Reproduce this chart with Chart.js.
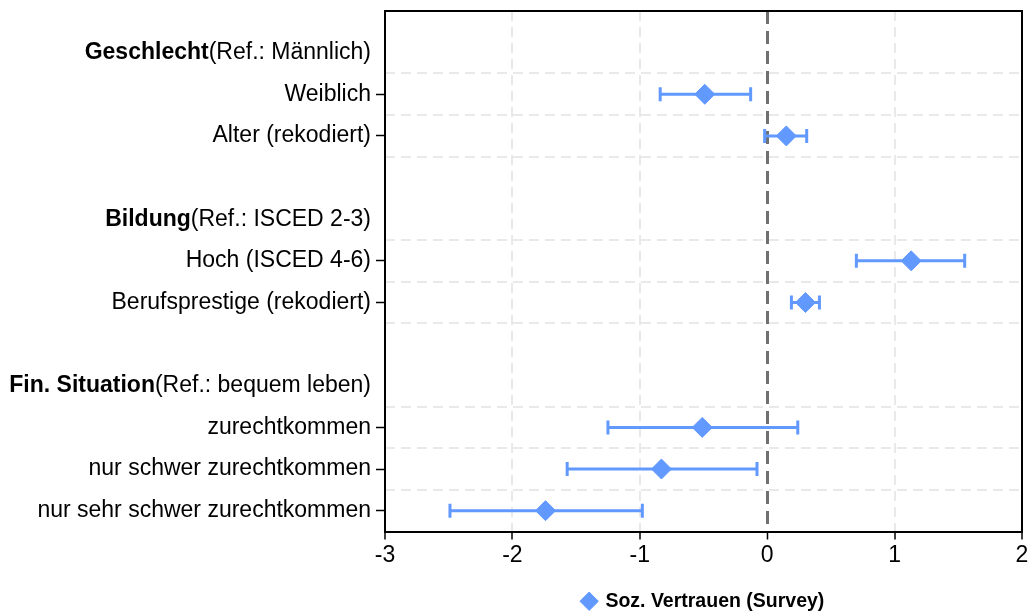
<!DOCTYPE html>
<html>
<head>
<meta charset="utf-8">
<script src="https://cdn.jsdelivr.net/npm/chart.js@4"></script>
<style>
  body { margin: 0; background: #fff; }
</style>
</head>
<body>
<canvas id="coefChart" width="1033" height="616"></canvas>
<script>
'use strict';

// grupy zmiennych (naglowki) i ich kategorie referencyjne
var groups = ['Geschlecht', 'Bildung', 'Fin. Situation'];
var groupRefs = ['(Ref.: Männlich)', '(Ref.: ISCED 2-3)', '(Ref.: bequem leben)'];
var groupSizes = [2, 2, 3];

// zmienne w modelu
var categories = ['Weiblich', 'Alter (rekodiert)', 'Hoch (ISCED 4-6)', 'Berufsprestige (rekodiert)',
  'zurechtkommen', 'nur schwer zurechtkommen', 'nur sehr schwer zurechtkommen'];
var estimates = [-0.49, 0.15, 1.13, 0.30, -0.51, -0.83, -1.74];
var ciLow = [-0.84, -0.02, 0.70, 0.19, -1.25, -1.57, -2.49];
var ciHigh = [-0.13, 0.31, 1.55, 0.41, 0.24, -0.08, -0.98];
var xTicks = [-3, -2, -1, 0, 1, 2];
var seriesName = 'Soz. Vertrauen (Survey)';

var blue = '#6199ff';
var fontFamily = '"Liberation Sans", Arial, Helvetica, sans-serif';
var fontSize = 23;

// uklad wierszy: naglowek, kategorie, pusty wiersz miedzy grupami
var rowLabels = [];
var headerRows = [];
var catRows = [];
var k = 0;
groups.forEach(function(g, gi) {
  if (gi > 0) rowLabels.push('');
  headerRows.push(rowLabels.length);
  rowLabels.push(g);
  for (var j = 0; j < groupSizes[gi]; j++) {
    catRows.push(rowLabels.length);
    rowLabels.push(categories[k++]);
  }
});
// linie siatki pod naglowkiem i pod kazda kategoria
var gridRows = [];
rowLabels.forEach(function(l, r) {
  if (r < rowLabels.length - 1 && l !== '') gridRows.push(r + 0.5);
});

function isCatRow(v) { return catRows.indexOf(v) !== -1; }

// punkty oszacowan
var estData = categories.map(function(c, i) { return {x: estimates[i], y: catRows[i]}; });
// przedzialy ufnosci - odcinki rozdzielone przerwa
var ciData = [];
categories.forEach(function(c, i) {
  ciData.push({x: ciLow[i], y: catRows[i]});
  ciData.push({x: ciHigh[i], y: catRows[i]});
  ciData.push({x: null, y: null});
});

var yMin = -1, yMax = rowLabels.length - 0.5;

// naglowki grup: pogrubiona nazwa + kategoria referencyjna
var groupHeaders = {
  id: 'groupHeaders',
  afterDraw: function(chart) {
    var ctx = chart.ctx;
    var yScale = chart.scales.y;
    var xRight = yScale.right - 9 - 5;
    ctx.save();
    ctx.textBaseline = 'middle';
    ctx.textAlign = 'right';
    ctx.fillStyle = '#000';
    headerRows.forEach(function(row, i) {
      var y = yScale.getPixelForValue(row);
      ctx.font = fontSize + 'px ' + fontFamily;
      var refW = ctx.measureText(groupRefs[i]).width;
      ctx.fillText(groupRefs[i], xRight, y);
      ctx.font = 'bold ' + fontSize + 'px ' + fontFamily;
      ctx.fillText(groups[i], xRight - refW, y);
    });
    ctx.restore();
  }
};

function noPadY(scale, w) {
  scale.width = w;
  scale.paddingTop = 0;
  scale.paddingBottom = 0;
}

var ctx = document.getElementById('coefChart').getContext('2d');
var chart = new Chart(ctx, {
  type: 'scatter',
  plugins: [groupHeaders],
  data: {
    datasets: [{
      label: seriesName,
      data: estData,
      pointStyle: 'rectRot',
      pointRadius: 10,
      backgroundColor: blue,
      borderColor: blue,
      borderWidth: 1
    },
    {
      label: 'CI',
      data: ciData,
      showLine: true,
      spanGaps: false,
      borderColor: blue,
      borderWidth: 3,
      pointStyle: 'line',
      rotation: 90,
      pointRadius: 7,
      pointBorderWidth: 3,
      pointBorderColor: blue,
      pointBackgroundColor: blue
    }]
  },
  options: {
    responsive: false,
    animation: false,
    layout: { padding: { top: 9, right: 11, bottom: -5, left: 0 } },
    plugins: {
      tooltip: { enabled: false },
      legend: {
        position: 'bottom',
        fullSize: false,
        labels: {
          usePointStyle: true,
          boxWidth: 13,
          boxHeight: 13,
          padding: 10,
          color: '#000',
          font: { family: fontFamily, size: 19.5, weight: 'bold' },
          filter: function(item) { return item.datasetIndex === 0; }
        }
      }
    },
    scales: {
      x: {
        type: 'linear',
        min: xTicks[0],
        max: xTicks[xTicks.length - 1],
        afterBuildTicks: function(scale) {
          scale.ticks = xTicks.map(function(v) { return {value: v}; });
        },
        afterFit: function(scale) { scale.height = 50; },
        ticks: {
          color: '#000',
          padding: 2,
          font: { family: fontFamily, size: fontSize }
        },
        grid: {
          color: function(c) { return c.tick && c.tick.value === 0 ? '#707070' : '#e9e9e9'; },
          lineWidth: function(c) { return c.tick && c.tick.value === 0 ? 3 : 2; },
          tickColor: '#000',
          tickLength: 8,
          tickWidth: 1.5
        },
        border: {
          color: '#000',
          width: 2,
          dash: function(c) { return c.tick && c.tick.value === 0 ? [13, 7] : [10, 6]; }
        }
      },
      x2: {
        type: 'linear',
        position: 'top',
        min: 0,
        max: 1,
        afterFit: function(scale) { scale.height = 0; },
        ticks: { display: false },
        grid: { display: false },
        border: { color: '#000', width: 2 }
      },
      y: {
        type: 'linear',
        position: 'left',
        reverse: true,
        min: yMin,
        max: yMax,
        afterBuildTicks: function(scale) {
          scale.ticks = rowLabels.map(function(l, i) { return {value: i}; });
        },
        afterFit: function(scale) { noPadY(scale, 385); },
        ticks: {
          autoSkip: false,
          color: '#000',
          padding: 5,
          font: { family: fontFamily, size: fontSize },
          callback: function(value) { return isCatRow(value) ? rowLabels[value] : ''; }
        },
        grid: {
          drawOnChartArea: false,
          tickLength: 9,
          tickWidth: 1.5,
          tickColor: function(c) { return c.tick && isCatRow(c.tick.value) ? '#000' : 'rgba(0,0,0,0)'; }
        },
        border: { color: '#000', width: 2 }
      },
      y2: {
        type: 'linear',
        position: 'right',
        reverse: true,
        min: yMin,
        max: yMax,
        afterBuildTicks: function(scale) {
          scale.ticks = gridRows.map(function(v) { return {value: v}; });
        },
        afterFit: function(scale) { noPadY(scale, 0); },
        ticks: { display: false },
        grid: { color: '#e9e9e9', lineWidth: 2, drawTicks: false },
        border: { color: '#000', width: 2, dash: [10, 6] }
      }
    }
  }
});
</script>
</body>
</html>
